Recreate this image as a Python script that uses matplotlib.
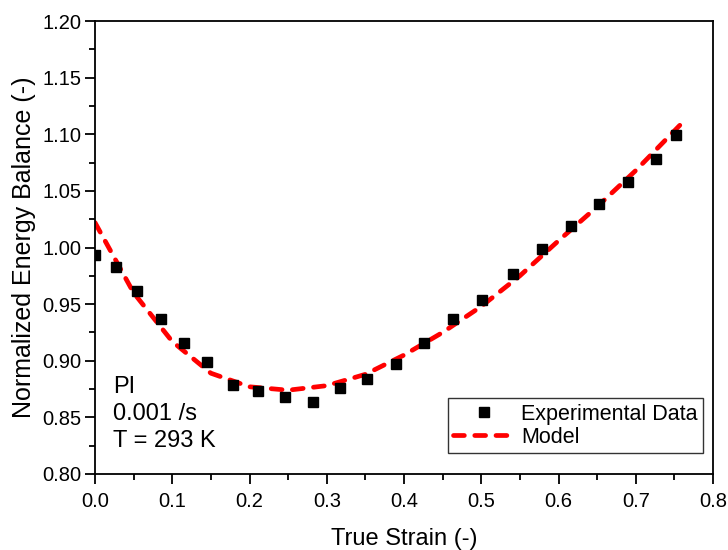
import matplotlib
matplotlib.use("Agg")
import matplotlib.pyplot as plt
from matplotlib.ticker import MultipleLocator

plt.rcParams['font.family'] = ['Liberation Sans', 'DejaVu Sans']

# experimental points
exp_strain = [0.000, 0.027, 0.055, 0.085, 0.115, 0.145, 0.179, 0.211, 0.246, 0.282,
              0.317, 0.352, 0.389, 0.426, 0.463, 0.501, 0.541, 0.578, 0.616, 0.653,
              0.690, 0.726, 0.752]
exp_energy = [0.993, 0.983, 0.962, 0.937, 0.916, 0.899, 0.879, 0.873, 0.868, 0.864,
              0.876, 0.884, 0.897, 0.916, 0.937, 0.954, 0.977, 0.999, 1.019, 1.038,
              1.058, 1.078, 1.099]

# model curve
model_strain = [0.00, 0.05, 0.10, 0.15, 0.20, 0.25, 0.30, 0.35, 0.40, 0.45,
                0.50, 0.55, 0.60, 0.65, 0.70, 0.76]
model_energy = [1.022, 0.960, 0.917, 0.889, 0.877, 0.874, 0.878, 0.888, 0.905, 0.925,
                0.948, 0.975, 1.006, 1.036, 1.068, 1.110]

fig = plt.figure(figsize=(7.28, 5.5), dpi=100)
ax = fig.add_axes([0.1305, 0.1382, 0.8489, 0.8236])

ax.plot(exp_strain, exp_energy, 's', color='black', markersize=7.5,
        label='Experimental Data', zorder=3)
ax.plot(model_strain, model_energy, '--', color='red', linewidth=3.4,
        dashes=(2.3, 2.2), dash_capstyle='round', label='Model', zorder=2)

ax.set_xlim(0, 0.8)
ax.set_ylim(0.80, 1.20)
ax.xaxis.set_major_locator(MultipleLocator(0.1))
ax.xaxis.set_minor_locator(MultipleLocator(0.05))
ax.yaxis.set_major_locator(MultipleLocator(0.05))
ax.yaxis.set_minor_locator(MultipleLocator(0.025))
ax.xaxis.set_major_formatter(lambda v, p: f"{v:.1f}")
ax.yaxis.set_major_formatter(lambda v, p: f"{v:.2f}")
ax.tick_params(which='both', direction='out', top=False, right=False, labelsize=14.5)
ax.tick_params(which='major', length=7, width=1.3, pad=3)
ax.tick_params(which='minor', length=4, width=1.3)
ax.tick_params(axis='x', which='major', pad=6)
for s in ax.spines.values():
    s.set_linewidth(1.3)

ax.set_xlabel('True Strain (-)', fontsize=17, labelpad=12)
ax.set_ylabel('Normalized Energy Balance (-)', fontsize=18, labelpad=4)

ax.text(0.029, 0.049, 'PI\n0.001 /s\nT = 293 K', transform=ax.transAxes,
        fontsize=17, linespacing=1.28, va='bottom', ha='left')

leg = ax.legend(loc='lower right', fontsize=15.5, frameon=True, fancybox=False,
                edgecolor='black', handlelength=2.85, handletextpad=0.3,
                borderpad=0.25, labelspacing=0.1, borderaxespad=0,
                bbox_to_anchor=(0.984, 0.046))
leg.get_frame().set_linewidth(1)

fig.savefig('out.png', dpi=100)
